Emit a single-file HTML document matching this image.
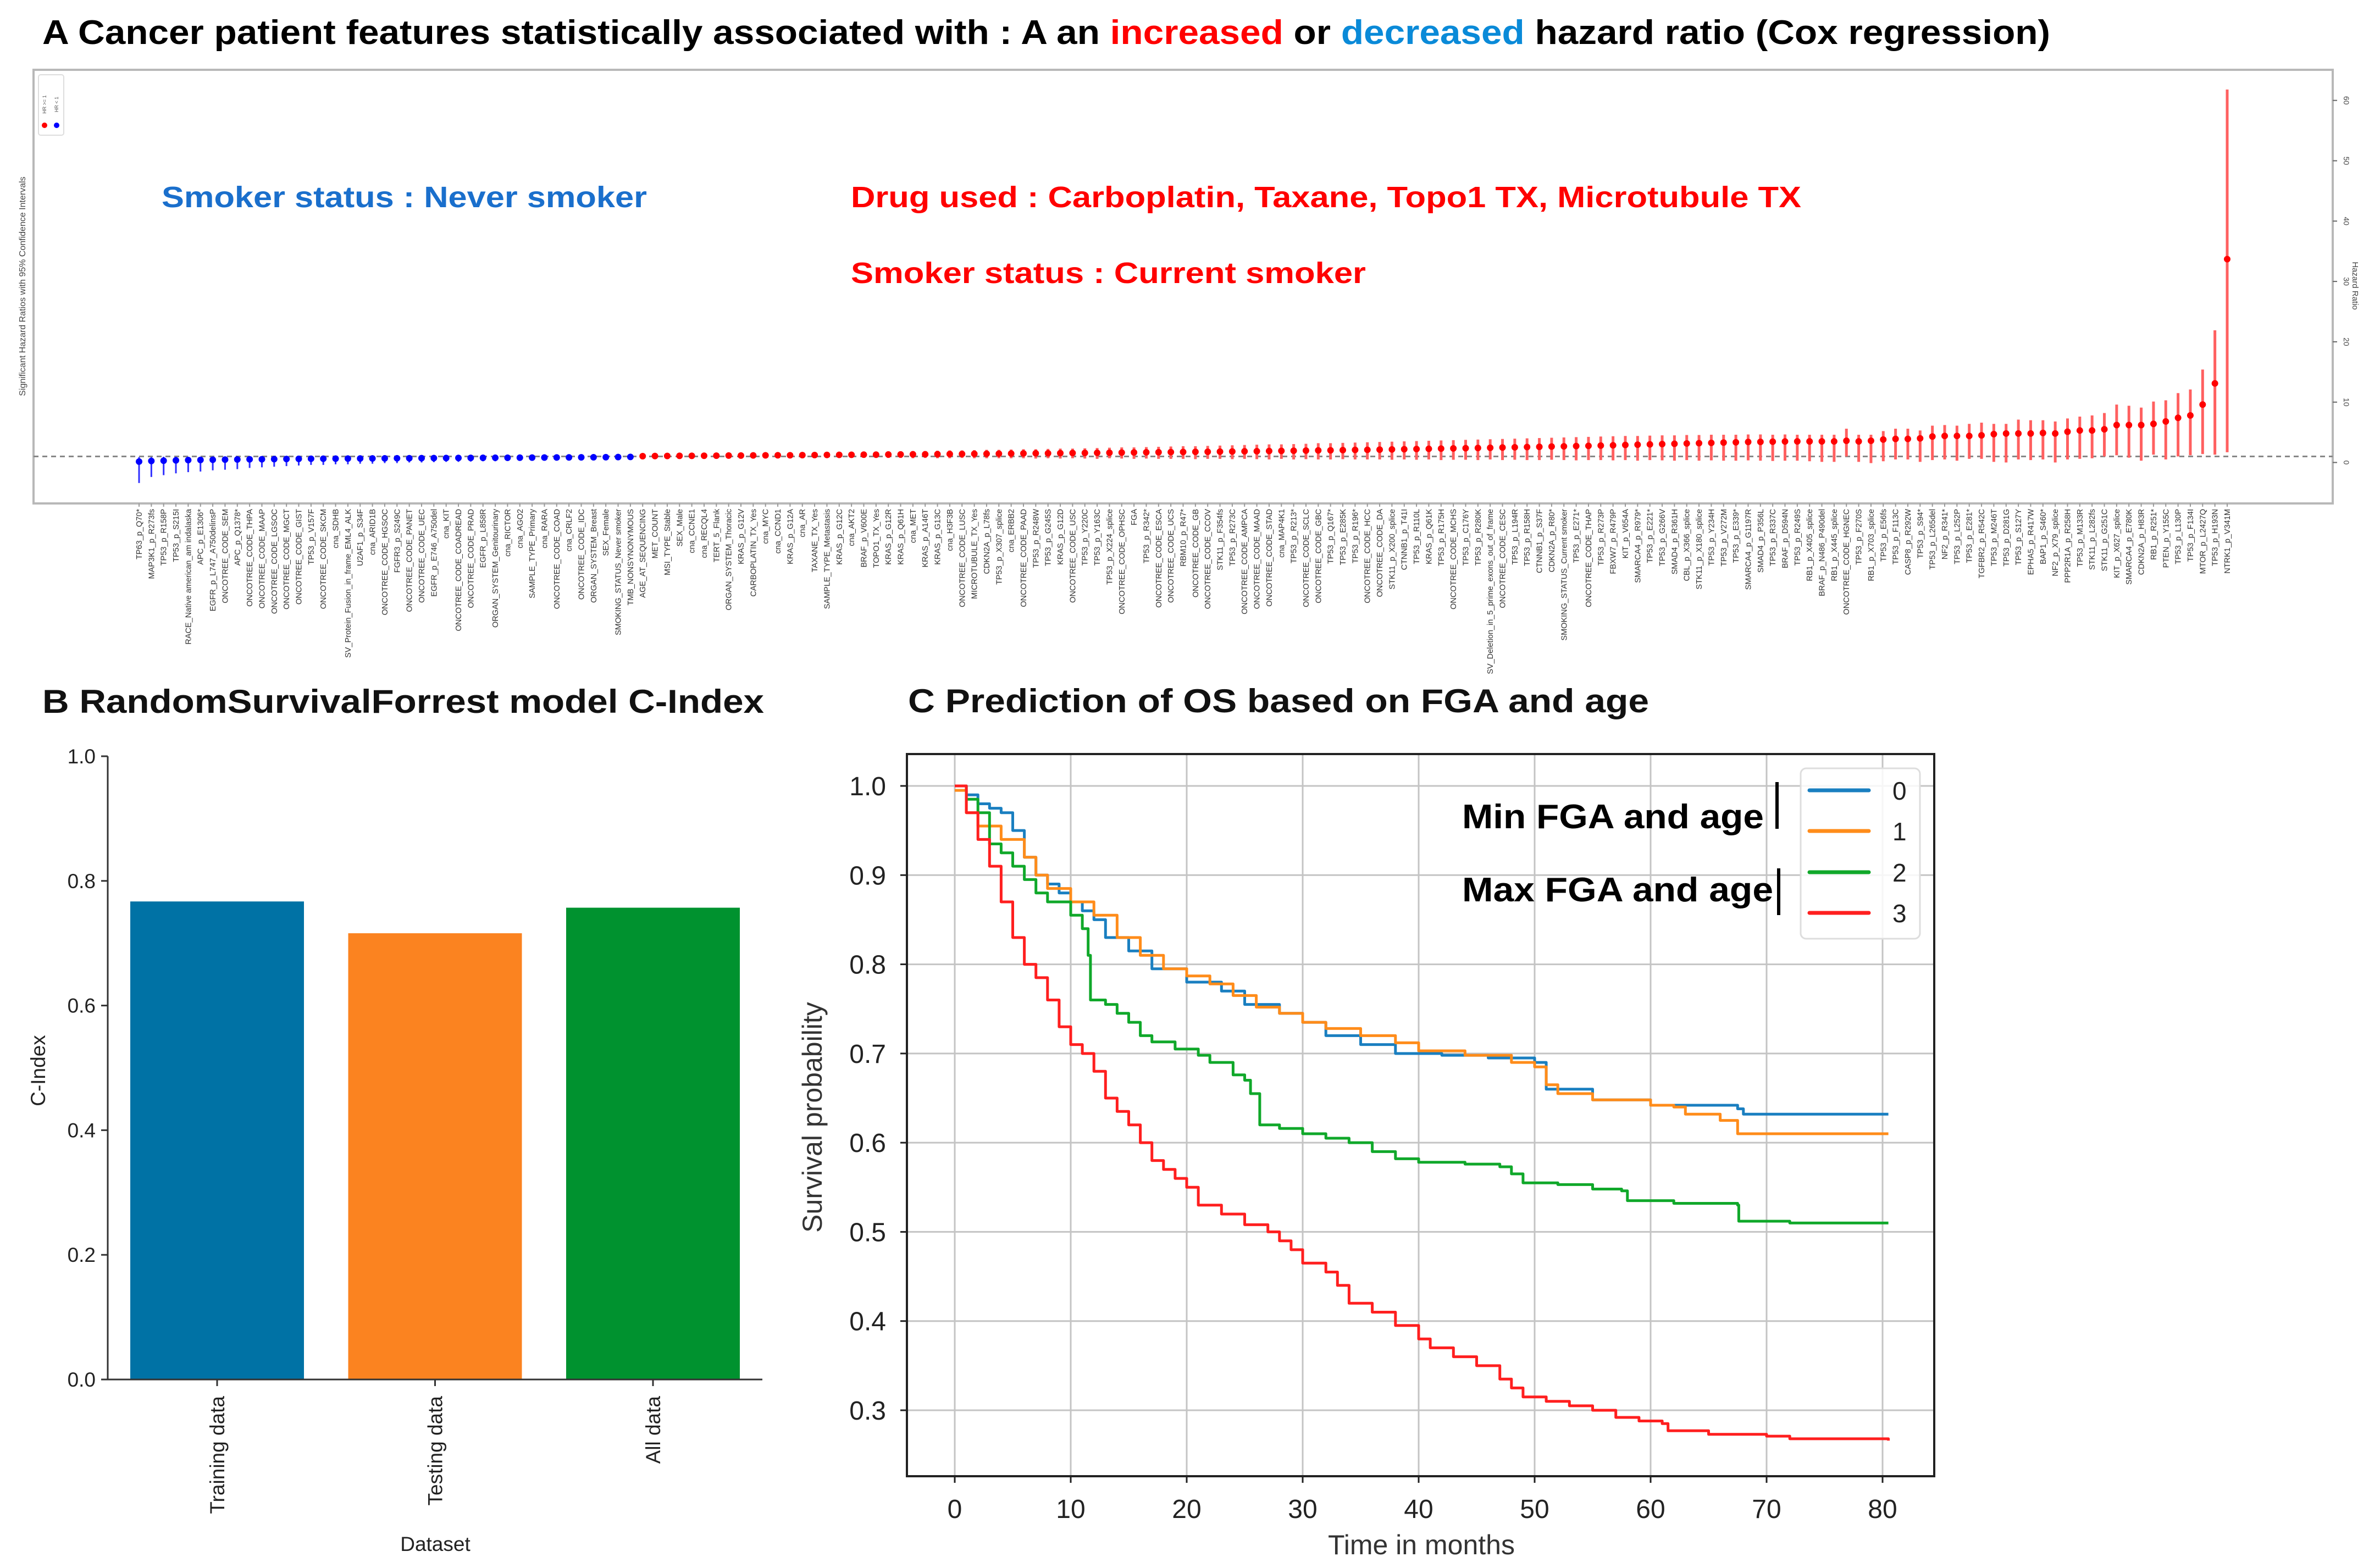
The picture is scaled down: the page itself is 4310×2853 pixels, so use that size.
<!DOCTYPE html>
<html><head><meta charset="utf-8">
<style>
html,body{margin:0;padding:0;background:#fff;}
svg{display:block;}
text{font-family:"Liberation Sans",sans-serif;}
</style></head>
<body>
<svg id="fig" xmlns="http://www.w3.org/2000/svg" width="4310" height="2853" viewBox="0 0 4310 2853">
<rect x="0" y="0" width="4310" height="2853" fill="#fff"/>
<text x="77" y="80" font-size="62" font-weight="bold" textLength="3653" lengthAdjust="spacingAndGlyphs">A Cancer patient features statistically associated with : A an <tspan fill="#ff0000">increased</tspan> or <tspan fill="#0a8ad8">decreased</tspan> hazard ratio (Cox regression)</text>
<g id="panelA"></g>
<g id="panelB"></g>
<g id="panelC"></g>
</svg>
<script>
// ---------- Panel A data ----------
const featureNames = ["TP63_p_Q70*","MAP3K1_p_R273fs","TP53_p_R158P","TP53_p_S215I","RACE_Native american_am indalaska","APC_p_E1306*","EGFR_p_L747_A750delinsP","ONCOTREE_CODE_SEM","APC_p_Q1378*","ONCOTREE_CODE_THPA","ONCOTREE_CODE_MAAP","ONCOTREE_CODE_LGSOC","ONCOTREE_CODE_MGCT","ONCOTREE_CODE_GIST","TP53_p_V157F","ONCOTREE_CODE_SKCM","cna_SDHB","SV_Protein_Fusion_in_frame_EML4_ALK","U2AF1_p_S34F","cna_ARID1B","ONCOTREE_CODE_HGSOC","FGFR3_p_S249C","ONCOTREE_CODE_PANET","ONCOTREE_CODE_UEC","EGFR_p_E746_A750del","cna_KIT","ONCOTREE_CODE_COADREAD","ONCOTREE_CODE_PRAD","EGFR_p_L858R","ORGAN_SYSTEM_Genitourinary","cna_RICTOR","cna_AGO2","SAMPLE_TYPE_Primary","cna_RARA","ONCOTREE_CODE_COAD","cna_CRLF2","ONCOTREE_CODE_IDC","ORGAN_SYSTEM_Breast","SEX_Female","SMOKING_STATUS_Never smoker","TMB_NONSYNONYMOUS",
"AGE_AT_SEQUENCING","MET_COUNT","MSI_TYPE_Stable","SEX_Male","cna_CCNE1","cna_RECQL4","TERT_5_Flank","ORGAN_SYSTEM_Thoracic","KRAS_p_G12V","CARBOPLATIN_TX_Yes","cna_MYC",
"cna_CCND1","KRAS_p_G12A","cna_AR","TAXANE_TX_Yes","SAMPLE_TYPE_Metastasis","KRAS_p_G12C","cna_AKT2","BRAF_p_V600E","TOPO1_TX_Yes","KRAS_p_G12R","KRAS_p_Q61H","cna_MET","KRAS_p_A146T","KRAS_p_G13C","cna_H3F3B","ONCOTREE_CODE_LUSC","MICROTUBULE_TX_Yes","CDKN2A_p_L78fs","TP53_p_X307_splice","cna_ERBB2","ONCOTREE_CODE_PAAD","TP53_p_R248W","TP53_p_G245S","KRAS_p_G12D","ONCOTREE_CODE_USC","TP53_p_Y220C","TP53_p_Y163C","TP53_p_X224_splice","ONCOTREE_CODE_OPHSC","FGA","TP53_p_R342*","ONCOTREE_CODE_ESCA","ONCOTREE_CODE_UCS","RBM10_p_R47*","ONCOTREE_CODE_GB","ONCOTREE_CODE_CCOV","STK11_p_F354fs","TP53_p_R273C","ONCOTREE_CODE_AMPCA","ONCOTREE_CODE_MAAD","ONCOTREE_CODE_STAD","cna_MAP4K1","TP53_p_R213*","ONCOTREE_CODE_SCLC","ONCOTREE_CODE_GBC","TP53_p_Q167*","TP53_p_E285K","TP53_p_R196*","ONCOTREE_CODE_HCC","ONCOTREE_CODE_DA","STK11_p_X200_splice","CTNNB1_p_T41I","TP53_p_R110L","KRAS_p_Q61K","TP53_p_R175H","ONCOTREE_CODE_MCHS","TP53_p_C176Y","TP53_p_R280K","SV_Deletion_in_5_prime_exons_out_of_frame","ONCOTREE_CODE_CESC","TP53_p_L194R","TP53_p_R158H","CTNNB1_p_S37F","CDKN2A_p_R80*","SMOKING_STATUS_Current smoker","TP53_p_E271*","ONCOTREE_CODE_THAP","TP53_p_R273P","FBXW7_p_R479P","KIT_p_V654A","SMARCA4_p_R979*","TP53_p_E221*","TP53_p_G266V","SMAD4_p_R361H","CBL_p_X366_splice","STK11_p_X180_splice","TP53_p_Y234H","TP53_p_V272M","TP53_p_E339*","SMARCA4_p_G1197R","SMAD4_p_P356L","TP53_p_R337C","BRAF_p_D594N","TP53_p_R249S","RB1_p_X405_splice",
"BRAF_p_N486_P490del","RB1_p_X445_splice","ONCOTREE_CODE_HGNEC","TP53_p_F270S","RB1_p_X703_splice","TP53_p_E56fs","TP53_p_F113C","CASP8_p_R292W","TP53_p_S94*","TP53_p_L265del","NF2_p_R341*","TP53_p_L252P","TP53_p_E281*","TGFBR2_p_R542C","TP53_p_M246T","TP53_p_D281G","TP53_p_S127Y","EPHA5_p_R417W","BAP1_p_S460*","NF2_p_X79_splice","PPP2R1A_p_R258H","TP53_p_M133R","STK11_p_L282fs","STK11_p_G251C","KIT_p_X627_splice","SMARCA4_p_E780K","CDKN2A_p_H83R","RB1_p_R251*","PTEN_p_Y155C","TP53_p_L130P","TP53_p_F134I","MTOR_p_L2427Q","TP53_p_H193N","NTRK1_p_V341M"];
const hazardRatios = [0.15,0.25,0.3,0.35,0.4,0.42,0.45,0.48,0.5,0.52,0.54,0.56,0.58,0.6,0.62,0.63,0.64,0.65,0.66,0.67,0.68,0.7,0.71,0.72,0.73,0.74,0.75,0.76,0.77,0.78,0.79,0.8,0.81,0.82,0.83,0.84,0.85,0.86,0.88,0.9,0.92,
1.05,1.07,1.08,1.1,1.1,1.12,1.13,1.15,1.15,1.17,1.18,1.2,1.2,1.22,1.23,1.25,1.26,1.28,1.3,1.3,
1.32,1.33,1.35,1.36,1.38,1.4,1.41,1.43,1.45,1.46,1.48,1.5,1.52,1.53,1.55,1.57,1.58,1.6,1.62,1.64,
1.66,1.68,1.7,1.72,1.74,1.76,1.78,1.8,1.82,1.85,1.87,1.9,1.92,1.95,1.97,2.0,2.02,2.05,2.08,2.1,
2.13,2.16,2.2,2.23,2.26,2.3,2.33,2.37,2.4,2.44,2.48,2.52,2.56,2.6,2.64,2.68,2.72,2.76,2.8,2.85,
2.9,2.95,3.0,3.05,3.1,3.15,3.2,3.25,3.3,3.35,3.4,3.42,3.45,3.48,3.5,3.5,
3.5,3.5,3.6,3.5,3.6,3.8,3.9,3.9,4.0,4.3,4.4,4.4,4.4,4.5,4.7,4.8,4.8,4.8,4.9,4.8,5.1,5.3,5.3,5.5,6.2,6.2,6.2,6.4,6.8,7.4,7.8,9.6,13.1,33.7];
const ciLower = [-3.4,-2.4,-2.1,-1.8,-1.6,-1.5,-1.3,-1.2,-1.1,-0.9,-0.8,-0.7,-0.6,-0.5,-0.4,-0.4,-0.3,-0.3,-0.2,-0.2,-0.1,-0.1,0,0,0.05,0.1,0.1,0.15,0.2,0.2,0.25,0.3,0.3,0.35,0.35,0.4,0.4,0.45,0.5,0.55,0.6,
0.8,0.8,0.85,0.8,0.85,0.8,0.85,0.8,0.8,0.85,0.8,0.8,0.85,0.8,0.8,0.8,0.8,0.8,0.8,0.75,
0.75,0.75,0.7,0.75,0.7,0.7,0.75,0.7,0.7,0.7,0.7,0.7,0.65,0.7,0.65,0.7,0.65,0.6,0.7,0.65,
0.6,0.65,0.6,0.6,0.6,0.55,0.6,0.6,0.55,0.6,0.55,0.5,0.6,0.5,0.55,0.5,0.5,0.55,0.5,0.5,
0.5,0.45,0.5,0.45,0.5,0.4,0.45,0.45,0.4,0.5,0.4,0.45,0.4,0.4,0.45,0.4,0.35,0.4,0.4,0.35,
0.4,0.3,0.4,0.35,0.3,0.4,0.3,0.35,0.3,0.3,0.35,0.3,0.25,0.3,0.3,0.2,
0.1,0.1,1.0,0.1,-0.1,0.2,0.5,0.5,0.1,0.4,0.5,0.3,0.6,0.6,0.1,0,0.5,0.4,0.5,0,0.5,0.6,0.7,1.0,1.2,0.8,0.3,1.3,0.5,1.0,1.2,1.4,1.3,1.7];
const ciUpper = [0.9,0.9,0.95,0.95,0.95,0.95,0.96,0.96,0.97,0.97,0.97,0.97,0.98,0.98,0.98,0.98,0.98,0.98,0.99,0.99,0.99,0.99,0.99,0.99,0.99,0.99,0.99,0.99,0.99,0.99,0.99,0.99,0.99,0.99,0.99,0.99,0.99,0.99,0.99,0.99,0.99,
1.4,1.4,1.45,1.45,1.45,1.5,1.5,1.5,1.55,1.55,1.6,1.6,1.6,1.65,1.65,1.7,1.7,1.75,1.8,1.8,
1.85,1.85,1.9,1.9,1.95,2.0,2.0,2.05,2.1,2.1,2.15,2.2,2.2,2.25,2.3,2.3,2.35,2.4,2.45,2.5,
2.5,2.55,2.6,2.65,2.7,2.7,2.75,2.8,2.85,2.9,2.95,3.0,3.0,3.05,3.1,3.2,3.2,3.25,3.3,3.35,
3.4,3.45,3.5,3.55,3.6,3.65,3.7,3.75,3.8,3.85,3.9,3.95,4.0,4.05,4.1,4.15,4.2,4.25,4.3,4.35,
4.4,4.4,4.45,4.5,4.5,4.55,4.55,4.6,4.6,4.6,4.65,4.65,4.6,4.65,4.6,4.6,
4.6,4.6,5.6,4.6,4.6,5.2,5.6,5.6,5.3,6.1,6.2,6.1,6.4,6.6,6.4,6.4,7.1,7.0,7.0,6.8,7.3,7.6,7.8,8.2,9.6,9.4,9.1,10.1,10.3,11.5,12.1,15.4,21.9,61.8];
const hrTicks = [0,10,20,30,40,50,60];

// ---------- Panel B data ----------
const datasets = ["Training data","Testing data","All data"];
const cIndexValues = [0.767,0.716,0.757];
const cIndexTicks = ["0.0","0.2","0.4","0.6","0.8","1.0"];

// ---------- Panel C data ----------
const groupLabels = ["0","1","2","3"];
const curveTimes0 = [0,1,2,3,4,5,6,7,8,9,10,11,12,13,15,17,20,23,25,28,30,32,35,38,42,46,50,51,55,60,67.5,68,80.5];
const curveSurv0  = [1.0,0.99,0.98,0.975,0.97,0.95,0.92,0.90,0.89,0.88,0.87,0.86,0.85,0.83,0.815,0.795,0.78,0.77,0.755,0.745,0.735,0.72,0.71,0.70,0.698,0.695,0.69,0.66,0.648,0.642,0.638,0.632,0.632];
const curveTimes1 = [0,1,2,4,6,7,8,10,12,14,16,18,20,22,24,26,28,30,32,35,38,40,44,48,50,51,52,55,60,62,63,66,67.5,80.5];
const curveSurv1  = [0.995,0.97,0.955,0.94,0.92,0.90,0.885,0.87,0.855,0.83,0.81,0.795,0.787,0.778,0.765,0.752,0.745,0.735,0.728,0.72,0.712,0.703,0.698,0.69,0.685,0.665,0.655,0.648,0.642,0.64,0.632,0.625,0.61,0.61];
const curveTimes2 = [0,1,2,3,4,5,6,7,8,10,11,11.5,11.7,13,14,15,16,17,19,21,22,24,25,25.5,26.3,28,30,32,34,36,38,40,44,47,48,49,52,55,57.5,58,62,67.5,67.6,72,80.5];
const curveSurv2  = [1.0,0.985,0.97,0.935,0.925,0.91,0.895,0.88,0.87,0.855,0.84,0.81,0.76,0.755,0.745,0.735,0.72,0.713,0.705,0.698,0.69,0.676,0.67,0.655,0.62,0.616,0.61,0.605,0.6,0.59,0.582,0.578,0.576,0.573,0.565,0.555,0.553,0.548,0.546,0.535,0.532,0.53,0.512,0.51,0.51];
const curveTimes3 = [0,1,2,3,4,5,6,7,8,9,10,11,12,13,14,15,16,17,18,19,20,21,23,25,27,28,29,30,32,33,34,36,38,40,41,43,45,47,48,49,51,53,55,57,59,61,61.5,65,70,72,80.5];
const curveSurv3  = [1.0,0.97,0.94,0.91,0.87,0.83,0.80,0.785,0.76,0.73,0.71,0.70,0.68,0.65,0.635,0.62,0.60,0.58,0.57,0.56,0.55,0.53,0.52,0.508,0.50,0.49,0.48,0.465,0.455,0.44,0.42,0.41,0.395,0.38,0.37,0.36,0.35,0.335,0.325,0.315,0.31,0.305,0.30,0.292,0.288,0.285,0.277,0.273,0.271,0.268,0.266];
const monthTicks = [0,10,20,30,40,50,60,70,80];
const survTicks = [0.3,0.4,0.5,0.6,0.7,0.8,0.9,1.0];

const NS = "http://www.w3.org/2000/svg";
function mk(tag, attrs, parent, txt){
  const e = document.createElementNS(NS, tag);
  for (const k in attrs) e.setAttribute(k, attrs[k]);
  if (txt !== undefined) e.textContent = txt;
  parent.appendChild(e);
  return e;
}

// ================= Panel A =================
(function(){
  const g = document.getElementById('panelA');
  const L=61, R=4244, T=127, B=916;
  const xA = i => 253 + i*(4052-253)/(featureNames.length-1);
  const yA = v => 841.5 - v*10.98;
  const frame = mk('rect',{x:L,y:T,width:R-L,height:B-T,fill:'#fff',stroke:'#b8b8b8','stroke-width':4},g);
  
  
  const ref = mk('line',{x1:L,x2:R,y1:yA(1),y2:yA(1),stroke:'#888','stroke-width':3,'stroke-dasharray':'9,7'},g);
  
  
  hrTicks.forEach(t=>{
    const y=yA(t);
    const tk = mk('line',{x1:R,x2:R+8,y1:y,y2:y,stroke:'#666','stroke-width':2},g);
    
    
    const tl = mk('text',{x:R+20,y:y,'font-size':14,fill:'#444','text-anchor':'middle',transform:`rotate(90 ${R+20} ${y})`},g,String(t));
    
    
  });
  const hrt = mk('text',{x:4280,y:520,'font-size':15,fill:'#444','text-anchor':'middle',transform:'rotate(90 4280 520)'},g,'Hazard Ratio');
  
  
  const lyt = mk('text',{x:46,y:521,'font-size':16,fill:'#444','text-anchor':'middle',transform:'rotate(-90 46 521)'},g,'Significant Hazard Ratios with 95% Confidence Intervals');
  
  
  const lg = mk('rect',{x:70,y:136,width:46,height:110,fill:'#fff',stroke:'#ddd','stroke-width':2,rx:4},g);
  
  
  [['HR >= 1','#ff0000',81],['HR < 1','#0000ff',103]].forEach(([lab,c,x])=>{
    const d = mk('circle',{cx:x,cy:228,r:5,fill:c},g);
    
    
    const t = mk('text',{x:x+3,y:190,'font-size':9,fill:'#555','text-anchor':'middle',transform:`rotate(-90 ${x+3} 190)`},g,lab);
    
    
  });
  featureNames.forEach((name,i)=>{
    const x=xA(i), hr=hazardRatios[i];
    const blue = hr<1;
    const c = blue ? '#0000ff' : '#ff0000';
    const w = mk('line',{x1:x,x2:x,y1:yA(ciLower[i]),y2:yA(ciUpper[i]),stroke:blue?'#3030ff':'#ff6060','stroke-width':blue?3:5},g);
    
    
    const p = mk('circle',{cx:x,cy:yA(hr),r:6,fill:c},g);
    
    
    const tk = mk('line',{x1:x,x2:x,y1:B,y2:B+6,stroke:'#999','stroke-width':2},g);
    
    
    const lab = mk('text',{x:x+5,y:B+10,'font-size':14.5,fill:'#333','text-anchor':'end',transform:`rotate(-90 ${x+5} ${B+10})`},g,name);
    
    
  });
  const a1 = mk('text',{x:294,y:377,'font-size':54,'font-weight':'bold',fill:'#1a6fcc',textLength:883,lengthAdjust:'spacingAndGlyphs'},g,'Smoker status : Never smoker');
  
  
  const a2 = mk('text',{x:1548,y:377,'font-size':54,'font-weight':'bold',fill:'#ff0000',textLength:1729,lengthAdjust:'spacingAndGlyphs'},g,'Drug used : Carboplatin, Taxane, Topo1 TX, Microtubule TX');
  
  
  const a3 = mk('text',{x:1548,y:515,'font-size':54,'font-weight':'bold',fill:'#ff0000',textLength:937,lengthAdjust:'spacingAndGlyphs'},g,'Smoker status : Current smoker');
  
  
})();

// ================= Panel B =================
(function(){
  const g = document.getElementById('panelB');
  const L=196, R=1387, T=1376, B=2510;
  const yB = v => B - v*(B-T);
  const colors=['#0072a5','#fb8320','#00922f'];
  const bw=316;
  const t = mk('text',{x:77,y:1297,'font-size':60,'font-weight':'bold',fill:'#111',textLength:1313,lengthAdjust:'spacingAndGlyphs'},g,'B RandomSurvivalForrest model C-Index');
  
  
  datasets.forEach((d,i)=>{
    const x = 237 + i*(1030-237)/2;
    const r = mk('rect',{x:x,y:yB(cIndexValues[i]),width:bw,height:B-yB(cIndexValues[i]),fill:colors[i]},g);
    
    
    const mx = x+bw/2;
    const tk = mk('line',{x1:mx,x2:mx,y1:B,y2:B+12,stroke:'#333','stroke-width':3},g);
    
    
    const lab = mk('text',{x:mx+13,y:B+30,'font-size':37,fill:'#222','text-anchor':'end',transform:`rotate(-90 ${mx+13} ${B+30})`},g,d);
    
    
  });
  cIndexTicks.forEach(s=>{
    const y=yB(parseFloat(s));
    const tk = mk('line',{x1:L-12,x2:L,y1:y,y2:y,stroke:'#333','stroke-width':3},g);
    
    
    const tl = mk('text',{x:L-22,y:y+13,'font-size':37,fill:'#222','text-anchor':'end'},g,s);
    
    
  });
  const ax = mk('path',{d:`M${L} ${T} V${B} H${R}`,fill:'none',stroke:'#333','stroke-width':3},g);
  
  
  const yl = mk('text',{x:82,y:1948,'font-size':37,fill:'#222','text-anchor':'middle',transform:'rotate(-90 82 1948)'},g,'C-Index');
  
  
  const xl = mk('text',{x:792,y:2822,'font-size':37,fill:'#222','text-anchor':'middle'},g,'Dataset');
  
  
})();

// ================= Panel C =================
(function(){
  const g = document.getElementById('panelC');
  const L=1650, R=3519, T=1372, B=2686;
  const xC = m => 1737 + m*(3425-1737)/80;
  const yC = s => 1430 + (1.0-s)*(2566-1430)/0.7;
  const NF = '"Liberation Sans Narrow","Liberation Sans",sans-serif';
  const t = mk('text',{x:1652,y:1296,'font-size':60,'font-weight':'bold',fill:'#111','font-family':NF,textLength:1348,lengthAdjust:'spacingAndGlyphs'},g,'C Prediction of OS based on FGA and age');
  
  
  mk('rect',{x:L,y:T,width:R-L,height:B-T,fill:'#fff'},g);
  monthTicks.forEach(m=>{
    const x=xC(m);
    const gl = mk('line',{x1:x,x2:x,y1:T,y2:B,stroke:'#c4c4c4','stroke-width':3},g);
    
    
    const tk = mk('line',{x1:x,x2:x,y1:B,y2:B+12,stroke:'#222','stroke-width':3},g);
    
    
    const tl = mk('text',{x:x,y:2762,'font-size':48,fill:'#222','text-anchor':'middle','font-family':NF},g,String(m));
    
    
  });
  survTicks.forEach(s=>{
    const y=yC(s);
    const gl = mk('line',{x1:L,x2:R,y1:y,y2:y,stroke:'#c4c4c4','stroke-width':3},g);
    
    
    const tk = mk('line',{x1:L-12,x2:L,y1:y,y2:y,stroke:'#222','stroke-width':3},g);
    
    
    const tl = mk('text',{x:1612,y:y+17,'font-size':48,fill:'#222','text-anchor':'end','font-family':NF},g,s.toFixed(1));
    
    
  });
  const colors=['#1a7fc0','#ff8c1a','#10a82a','#ff1f1f'];
  const times=[curveTimes0,curveTimes1,curveTimes2,curveTimes3];
  const survs=[curveSurv0,curveSurv1,curveSurv2,curveSurv3];
  times.forEach((ts,k)=>{
    const ss=survs[k];
    let d=`M${xC(ts[0]).toFixed(1)} ${yC(ss[0]).toFixed(1)}`;
    for(let i=1;i<ts.length;i++){
      d+=` H${xC(ts[i]).toFixed(1)} V${yC(ss[i]).toFixed(1)}`;
    }
    const p = mk('path',{d:d,fill:'none',stroke:colors[k],'stroke-width':5,'stroke-linejoin':'round'},g);
    
    
  });
  const fr = mk('rect',{x:L,y:T,width:R-L,height:B-T,fill:'none',stroke:'#222','stroke-width':4},g);
  
  
  const lb = mk('rect',{x:3276,y:1398,width:217,height:310,rx:10,fill:'#fff','fill-opacity':0.85,stroke:'#ddd','stroke-width':3},g);
  
  
  const ly=[1438,1512,1587,1661];
  groupLabels.forEach((lab,k)=>{
    const ln = mk('line',{x1:3292,x2:3400,y1:ly[k],y2:ly[k],stroke:colors[k],'stroke-width':7,'stroke-linecap':'round'},g);
    
    
    const tx = mk('text',{x:3443,y:ly[k]+17,'font-size':46,fill:'#222','font-family':NF},g,lab);
    
    
  });
  const m1 = mk('text',{x:2660,y:1507,'font-size':62,'font-weight':'bold',fill:'#000','font-family':NF,textLength:549,lengthAdjust:'spacingAndGlyphs'},g,'Min FGA and age');
  
  
  const b1 = mk('line',{x1:3233,x2:3233,y1:1423,y2:1508,stroke:'#000','stroke-width':6},g);
  
  
  const m2 = mk('text',{x:2660,y:1640,'font-size':62,'font-weight':'bold',fill:'#000','font-family':NF,textLength:566,lengthAdjust:'spacingAndGlyphs'},g,'Max FGA and age');
  
  
  const b2 = mk('line',{x1:3236,x2:3236,y1:1580,y2:1665,stroke:'#000','stroke-width':6},g);
  
  
  const yl = mk('text',{x:1495,y:2033,'font-size':50,fill:'#333','text-anchor':'middle',transform:'rotate(-90 1495 2033)'},g,'Survival probability');
  
  
  const xl = mk('text',{x:2586,y:2828,'font-size':50,fill:'#333','text-anchor':'middle','font-family':NF},g,'Time in months');
  
  
})();
</script>
</body></html>
